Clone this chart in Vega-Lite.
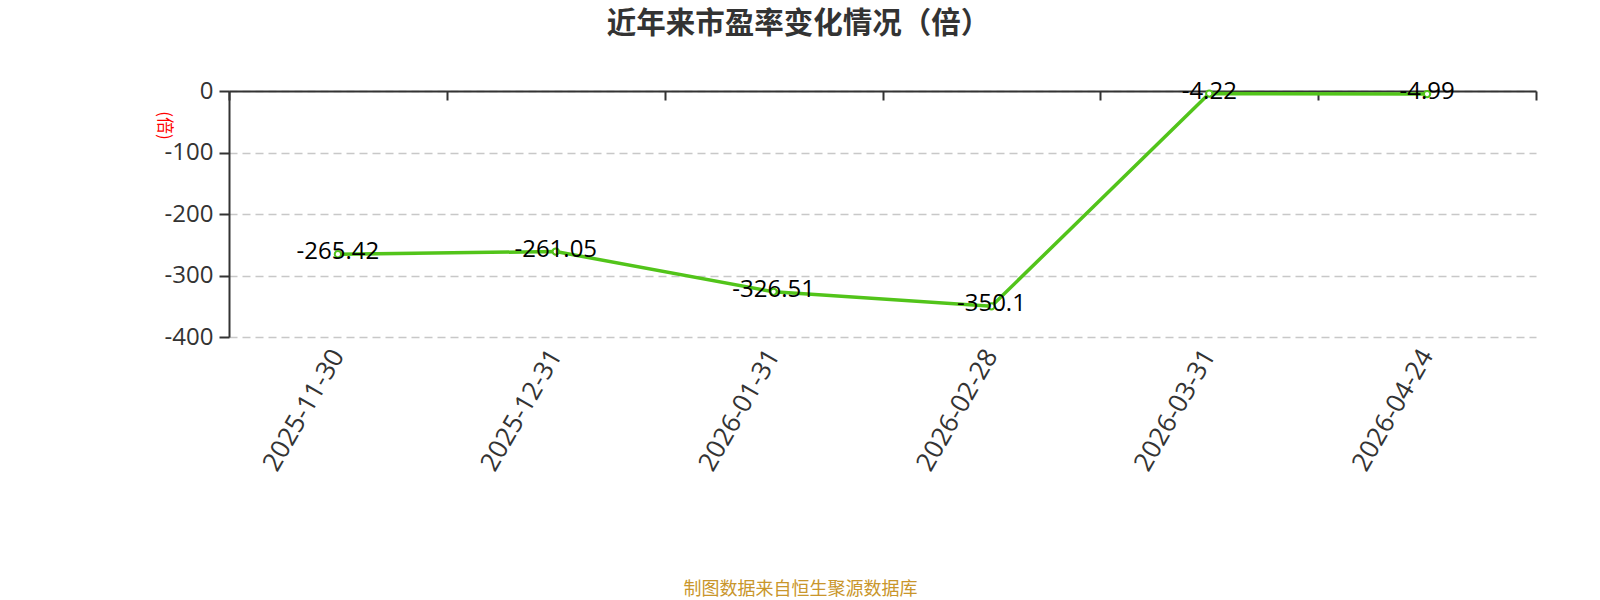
{
  "$schema": "https://vega.github.io/schema/vega-lite/v6.json",
  "autosize": "none",
  "width": 1307,
  "height": 246,
  "padding": {"left": 229, "top": 91, "right": 64, "bottom": 263},
  "background": "white",
  "config": {"view": {"stroke": null}, "font": "Open Sans, Noto Sans CJK SC"},
  "title": {
    "text": "近年来市盈率变化情况（倍）",
    "anchor": "middle",
    "dx": -84,
    "offset": 11,
    "baseline": "bottom",
    "font": "Noto Sans CJK SC",
    "fontSize": 29.5,
    "fontWeight": "bold",
    "color": "#333333"
  },
  "data": {
    "values": [
      {"date": "2025-11-30", "pe": -265.42},
      {"date": "2025-12-31", "pe": -261.05},
      {"date": "2026-01-31", "pe": -326.51},
      {"date": "2026-02-28", "pe": -350.1},
      {"date": "2026-03-31", "pe": -4.22},
      {"date": "2026-04-24", "pe": -4.99}
    ]
  },
  "resolve": {"axis": {"x": "independent"}},
  "layer": [
    {
      "mark": {
        "type": "line",
        "color": "#52c41a",
        "strokeWidth": 3.5,
        "point": {"filled": false, "fill": "white", "stroke": "#52c41a", "strokeWidth": 2, "size": 40, "opacity": 1}
      },
      "encoding": {
        "x": {
          "field": "date",
          "type": "ordinal",
          "scale": {"type": "band", "paddingInner": 0, "paddingOuter": 0},
          "axis": {
            "orient": "bottom",
            "domain": false,
            "ticks": false,
            "labelAngle": -60,
            "labelAlign": "right",
            "labelBaseline": "middle",
            "labelPadding": 14,
            "labelFontSize": 26,
            "labelColor": "#333333",
            "title": "制图数据来自恒生聚源数据库",
            "titleFont": "Noto Sans CJK SC",
            "titleFontSize": 18,
            "titleFontWeight": "normal",
            "titleColor": "#c9962b",
            "titleX": 571,
            "titleY": 252,
            "titleAlign": "center",
            "titleBaseline": "middle"
          }
        },
        "y": {
          "field": "pe",
          "type": "quantitative",
          "scale": {"domain": [-400, 0], "nice": false, "zero": false},
          "axis": {
            "values": [0, -100, -200, -300, -400],
            "labelExpr": "replace(datum.label, '−', '-')",
            "domainColor": "#333333",
            "domainWidth": 2,
            "tickColor": "#333333",
            "tickWidth": 2,
            "tickSize": 10,
            "labelFontSize": 24,
            "labelColor": "#333333",
            "labelPadding": 6,
            "grid": true,
            "gridColor": "#c8c8c8",
            "gridDash": [8, 5],
            "gridWidth": 1.3,
            "title": "(倍)",
            "titleColor": "#ff0000",
            "titleFont": "Noto Sans CJK SC",
            "titleFontSize": 17,
            "titleFontWeight": "normal",
            "titleAngle": 90,
            "titleX": -66,
            "titleY": 34,
            "titleAlign": "center",
            "titleBaseline": "middle"
          }
        }
      }
    },
    {
      "mark": {"type": "text", "fontSize": 24, "color": "#000000", "baseline": "middle", "dy": -2},
      "encoding": {
        "x": {
          "field": "date",
          "type": "ordinal",
          "axis": {
            "orient": "top",
            "labels": false,
            "title": null,
            "domainColor": "#333333",
            "domainWidth": 2,
            "tickColor": "#333333",
            "tickWidth": 2,
            "tickSize": -9,
            "tickBand": "extent"
          }
        },
        "y": {"field": "pe", "type": "quantitative"},
        "text": {"field": "pe", "type": "nominal"}
      }
    }
  ]
}
